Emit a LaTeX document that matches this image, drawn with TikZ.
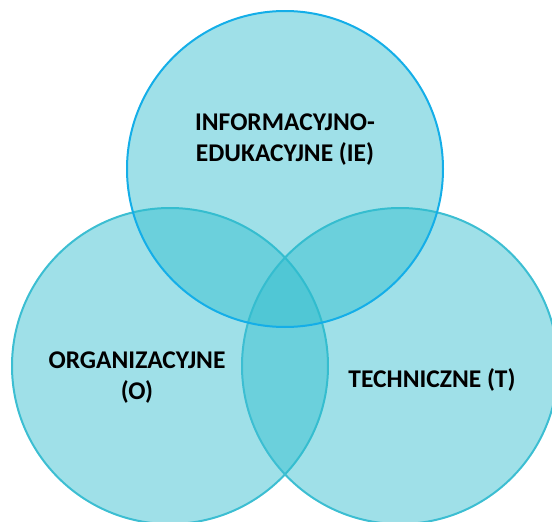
\documentclass[tikz,border=0pt]{standalone}
\usepackage{fontspec}
\setmainfont{Carlito}
\definecolor{vfill}{RGB}{46,188,205}
\definecolor{vedge}{RGB}{60,190,210}
\definecolor{vtop}{RGB}{20,174,232}
\begin{document}
\begin{tikzpicture}[x=1pt,y=-1pt,
  venn/.style={circle,minimum size=316pt,inner sep=0pt,fill=vfill,fill opacity=0.46,draw=vedge,line width=2pt},
  lbl/.style={font=\bfseries\fontsize{25.5}{31}\selectfont,align=center,text=black}]
\useasboundingbox (0,0) rectangle (552,522);
\node[venn] (O) at (170,366) {};
\node[venn] (T) at (400,366) {};
\node[venn,draw=vtop] (IE) at (285,169) {};
\node[lbl] (tIE) at (285,140) {INFORMACYJNO-\\EDUKACYJNE (IE)};
\node[lbl] (tO) at (137,378) {ORGANIZACYJNE\\(O)};
\node[lbl] (tT) at (432,380) {TECHNICZNE (T)};
\end{tikzpicture}
\end{document}
